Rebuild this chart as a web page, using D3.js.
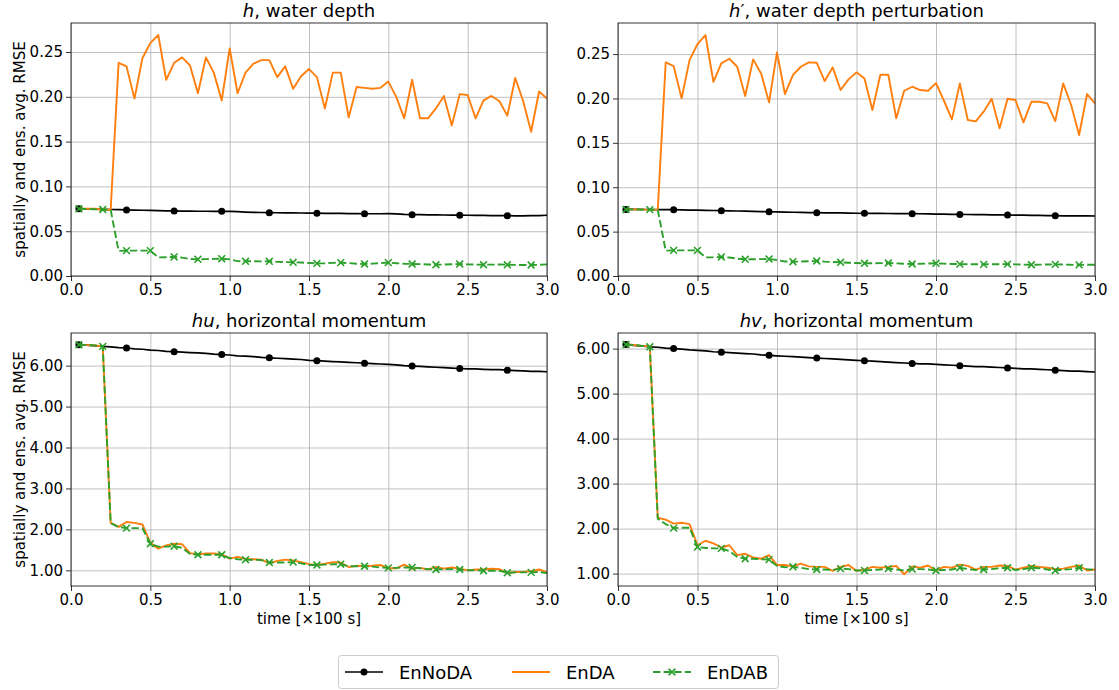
<!DOCTYPE html>
<html><head><meta charset="utf-8">
<script src="https://cdn.jsdelivr.net/npm/d3@7"></script>
<style>body{margin:0;background:#fff} text{font-family:"DejaVu Sans",sans-serif;fill:#000}</style>
</head><body><svg id="c" width="1119" height="690"></svg>
<script>
const time = [0.05,0.10,0.15,0.20,0.25,0.30,0.35,0.40,0.45,0.50,0.55,0.60,0.65,0.70,0.75,0.80,0.85,0.90,0.95,1.00,
1.05,1.10,1.15,1.20,1.25,1.30,1.35,1.40,1.45,1.50,1.55,1.60,1.65,1.70,1.75,1.80,1.85,1.90,1.95,2.00,
2.05,2.10,2.15,2.20,2.25,2.30,2.35,2.40,2.45,2.50,2.55,2.60,2.65,2.70,2.75,2.80,2.85,2.90,2.95,3.00];

// h, water depth
const hEnNoDA = [0.0750,0.0748,0.0746,0.0744,0.0742,0.0740,0.0738,0.0736,0.0734,0.0732,0.0730,0.0728,0.0726,0.0725,0.0724,0.0723,0.0723,0.0722,0.0722,0.0721,
0.0718,0.0714,0.0711,0.0709,0.0707,0.0706,0.0705,0.0704,0.0703,0.0702,0.0701,0.0700,0.0699,0.0698,0.0697,0.0696,0.0695,0.0695,0.0695,0.0696,
0.0693,0.0688,0.0685,0.0684,0.0683,0.0682,0.0681,0.0680,0.0679,0.0678,0.0677,0.0676,0.0675,0.0674,0.0673,0.0672,0.0672,0.0673,0.0675,0.0678];
const hEnDA = [0.075,0.075,0.075,0.074,0.074,0.238,0.234,0.198,0.243,0.260,0.269,0.219,0.238,0.244,0.235,0.204,0.244,0.227,0.196,0.254,
0.204,0.227,0.237,0.241,0.241,0.222,0.234,0.209,0.223,0.231,0.222,0.187,0.227,0.227,0.177,0.211,0.210,0.209,0.210,0.217,
0.200,0.176,0.219,0.176,0.176,0.187,0.201,0.168,0.203,0.202,0.176,0.196,0.201,0.195,0.179,0.221,0.195,0.161,0.206,0.198];
const hEnDAB = [0.0750,0.0748,0.0745,0.0742,0.0738,0.0280,0.0283,0.0283,0.0283,0.0283,0.0208,0.0210,0.0213,0.0205,0.0190,0.0186,0.0188,0.0191,0.0193,0.0185,
0.0166,0.0164,0.0164,0.0163,0.0164,0.0158,0.0155,0.0153,0.0150,0.0145,0.0141,0.0143,0.0147,0.0149,0.0144,0.0136,0.0134,0.0138,0.0145,0.0149,
0.0143,0.0137,0.0134,0.0132,0.0129,0.0126,0.0128,0.0131,0.0134,0.0130,0.0127,0.0126,0.0127,0.0128,0.0126,0.0124,0.0123,0.0123,0.0125,0.0130];

// h', water depth perturbation
const hpEnNoDA = [0.0750,0.0750,0.0749,0.0749,0.0748,0.0748,0.0747,0.0745,0.0743,0.0741,0.0739,0.0738,0.0736,0.0734,0.0732,0.0730,0.0728,0.0726,0.0724,0.0722,
0.0720,0.0718,0.0716,0.0715,0.0713,0.0712,0.0711,0.0710,0.0708,0.0707,0.0706,0.0705,0.0705,0.0704,0.0703,0.0703,0.0702,0.0701,0.0700,0.0698,
0.0697,0.0695,0.0694,0.0693,0.0692,0.0691,0.0689,0.0688,0.0687,0.0686,0.0685,0.0683,0.0682,0.0681,0.0679,0.0678,0.0678,0.0677,0.0677,0.0676];
const hpEnDA = [0.0750,0.0750,0.0750,0.0745,0.0745,0.2406,0.2365,0.2001,0.2432,0.2613,0.2714,0.2188,0.2395,0.2447,0.2357,0.2027,0.2440,0.2282,0.1956,0.2519,
0.2050,0.2264,0.2357,0.2406,0.2402,0.2196,0.2350,0.2095,0.2215,0.2294,0.2226,0.1869,0.2267,0.2267,0.1776,0.2087,0.2132,0.2095,0.2087,0.2173,
0.1974,0.1764,0.2170,0.1757,0.1742,0.1851,0.1997,0.1663,0.1997,0.1982,0.1731,0.1963,0.1963,0.1944,0.1745,0.2170,0.1926,0.1588,0.2050,0.1944];
const hpEnDAB = [0.0750,0.0750,0.0749,0.0748,0.0746,0.0285,0.0289,0.0289,0.0289,0.0289,0.0210,0.0211,0.0214,0.0208,0.0195,0.0188,0.0189,0.0190,0.0191,0.0180,
0.0164,0.0161,0.0163,0.0166,0.0169,0.0162,0.0157,0.0154,0.0150,0.0146,0.0143,0.0144,0.0145,0.0146,0.0142,0.0137,0.0135,0.0138,0.0141,0.0143,
0.0139,0.0135,0.0134,0.0133,0.0132,0.0131,0.0132,0.0133,0.0134,0.0131,0.0128,0.0127,0.0128,0.0130,0.0131,0.0129,0.0126,0.0125,0.0126,0.0126];

// hu, horizontal momentum
const huEnNoDA = [6.51,6.50,6.49,6.47,6.46,6.44,6.43,6.41,6.40,6.38,6.37,6.35,6.34,6.33,6.32,6.31,6.30,6.28,6.27,6.26,
6.24,6.23,6.22,6.20,6.19,6.18,6.17,6.16,6.15,6.13,6.12,6.11,6.10,6.09,6.08,6.07,6.06,6.05,6.04,6.03,
6.02,6.00,5.99,5.98,5.97,5.96,5.95,5.94,5.93,5.92,5.92,5.91,5.90,5.90,5.89,5.88,5.87,5.86,5.86,5.85];
const huEnDA = [6.51,6.50,6.49,6.47,2.16,2.06,2.18,2.16,2.12,1.67,1.53,1.61,1.65,1.64,1.42,1.39,1.41,1.41,1.39,1.285,
1.33,1.28,1.27,1.26,1.17,1.23,1.26,1.24,1.20,1.15,1.13,1.16,1.20,1.19,1.08,1.11,1.10,1.11,1.13,1.05,
1.05,1.14,1.04,1.06,1.02,1.08,1.04,1.07,1.04,1.00,1.02,1.02,1.04,1.03,0.93,0.96,0.96,0.98,1.02,0.95];
const huEnDAB = [6.51,6.50,6.49,6.47,2.15,2.06,2.03,2.03,2.03,1.65,1.58,1.58,1.59,1.55,1.40,1.38,1.38,1.38,1.38,1.30,
1.27,1.26,1.26,1.25,1.19,1.19,1.19,1.20,1.17,1.13,1.13,1.14,1.15,1.15,1.10,1.10,1.10,1.09,1.07,1.06,
1.06,1.07,1.07,1.05,1.03,1.02,1.03,1.03,1.02,1.00,1.00,0.99,0.99,0.99,0.94,0.95,0.95,0.95,0.96,0.93];

// hv, horizontal momentum
const hvEnNoDA = [6.09,6.07,6.06,6.04,6.03,6.01,6.00,5.99,5.97,5.96,5.95,5.93,5.92,5.91,5.90,5.89,5.88,5.86,5.85,5.84,
5.83,5.82,5.81,5.80,5.79,5.78,5.77,5.76,5.75,5.74,5.73,5.72,5.71,5.70,5.69,5.68,5.67,5.66,5.66,5.65,
5.64,5.63,5.62,5.61,5.60,5.60,5.59,5.58,5.57,5.56,5.55,5.55,5.54,5.53,5.52,5.51,5.50,5.50,5.49,5.48];
const hvEnDA = [6.09,6.08,6.06,6.05,2.24,2.20,2.11,2.13,2.10,1.63,1.73,1.67,1.58,1.63,1.41,1.44,1.36,1.33,1.41,1.19,
1.19,1.16,1.22,1.16,1.15,1.15,1.06,1.15,1.19,1.06,1.09,1.15,1.13,1.15,1.17,0.985,1.16,1.13,1.18,1.07,
1.15,1.13,1.20,1.17,1.09,1.15,1.15,1.18,1.17,1.09,1.13,1.17,1.15,1.13,1.10,1.11,1.15,1.18,1.07,1.09];
const hvEnDAB = [6.09,6.08,6.06,6.04,2.22,2.10,2.01,2.02,2.02,1.59,1.57,1.56,1.56,1.50,1.37,1.33,1.33,1.32,1.31,1.17,
1.14,1.15,1.13,1.10,1.09,1.09,1.08,1.11,1.10,1.07,1.07,1.08,1.09,1.11,1.09,1.07,1.10,1.10,1.09,1.07,
1.08,1.09,1.13,1.10,1.08,1.09,1.10,1.12,1.13,1.08,1.10,1.13,1.12,1.09,1.07,1.09,1.10,1.13,1.10,1.08];

const xTicks = [0, 0.5, 1.0, 1.5, 2.0, 2.5, 3.0];
const yTicksTop = [0, 0.05, 0.10, 0.15, 0.20, 0.25];
const yTicksBottom = [1, 2, 3, 4, 5, 6];
const seriesNames = ["EnNoDA", "EnDA", "EnDAB"];
const colors = {EnNoDA: "#000000", EnDA: "#ff7f0e", EnDAB: "#2ca02c"};
const xLabelText = "time [×100 s]";
const yLabelText = "spatially and ens. avg. RMSE";

const panels = [
  {title: [["h", true], [", water depth", false]], data: [hEnNoDA, hEnDA, hEnDAB],
   box: [71, 547, 23, 276], ydom: [0, 0.2824], yt: yTicksTop, ylab: true, xlab: false},
  {title: [["h", true], ["′, water depth perturbation", false]], data: [hpEnNoDA, hpEnDA, hpEnDAB],
   box: [618, 1095, 23, 276], ydom: [0, 0.2850], yt: yTicksTop, ylab: false, xlab: false},
  {title: [["hu", true], [", horizontal momentum", false]], data: [huEnNoDA, huEnDA, huEnDAB],
   box: [71, 547, 333, 586], ydom: [0.617, 6.797], yt: yTicksBottom, ylab: true, xlab: true},
  {title: [["hv", true], [", horizontal momentum", false]], data: [hvEnNoDA, hvEnDA, hvEnDAB],
   box: [618, 1095, 333, 586], ydom: [0.724, 6.347], yt: yTicksBottom, ylab: false, xlab: true}
];

const svg = d3.select("#c");
svg.append("rect").attr("width", 1119).attr("height", 690).attr("fill", "#fff");
const xMarkPath = "M-3.4,-3.4L3.4,3.4M-3.4,3.4L3.4,-3.4";
const dash = "7.4,3.2";

panels.forEach(p => {
  const [x0, x1, y0, y1] = p.box;
  const x = d3.scaleLinear().domain([0, 3]).range([x0, x1]);
  const y = d3.scaleLinear().domain(p.ydom).range([y1, y0]);
  const g = svg.append("g");

  // grid
  g.append("g").attr("transform", `translate(0,${y1})`)
    .call(d3.axisBottom(x).tickValues(xTicks).tickSize(-(y1 - y0)).tickFormat(""))
    .call(s => { s.select(".domain").remove(); s.selectAll("line").attr("stroke", "#b0b0b0").attr("stroke-width", 0.8); });
  g.append("g").attr("transform", `translate(${x0},0)`)
    .call(d3.axisLeft(y).tickValues(p.yt).tickSize(-(x1 - x0)).tickFormat(""))
    .call(s => { s.select(".domain").remove(); s.selectAll("line").attr("stroke", "#b0b0b0").attr("stroke-width", 0.8); });

  // axes
  const ax = g.append("g").attr("transform", `translate(0,${y1})`)
    .call(d3.axisBottom(x).tickValues(xTicks).tickSize(5).tickPadding(3).tickFormat(d3.format(".1f")));
  const ay = g.append("g").attr("transform", `translate(${x0},0)`)
    .call(d3.axisLeft(y).tickValues(p.yt).tickSize(5).tickPadding(3).tickFormat(d3.format(".2f")));
  [ax, ay].forEach(a => {
    a.select(".domain").remove();
    a.selectAll("line").attr("stroke", "#000").attr("stroke-width", 0.8);
    a.selectAll("text").attr("font-size", 15).attr("font-family", "DejaVu Sans").attr("fill", "#000");
  });

  const clipId = "clip" + x0 + "_" + y0;
  svg.append("clipPath").attr("id", clipId).append("rect")
    .attr("x", x0).attr("y", y0).attr("width", x1 - x0).attr("height", y1 - y0);
  const plot = g.append("g").attr("clip-path", `url(#${clipId})`);

  const line = d3.line().x((d, i) => x(time[i])).y(d => y(d));
  // EnNoDA
  plot.append("path").datum(p.data[0]).attr("d", line).attr("fill", "none")
    .attr("stroke", colors.EnNoDA).attr("stroke-width", 1.7);
  plot.selectAll(".m0").data(p.data[0].map((v, i) => [time[i], v]).filter((d, i) => i % 6 === 0))
    .enter().append("circle").attr("cx", d => x(d[0])).attr("cy", d => y(d[1])).attr("r", 3.5).attr("fill", colors.EnNoDA);
  // EnDA
  plot.append("path").datum(p.data[1]).attr("d", line).attr("fill", "none")
    .attr("stroke", colors.EnDA).attr("stroke-width", 1.9).attr("stroke-linejoin", "round");
  // EnDAB
  plot.append("path").datum(p.data[2]).attr("d", line).attr("fill", "none")
    .attr("stroke", colors.EnDAB).attr("stroke-width", 1.9).attr("stroke-dasharray", dash);
  plot.selectAll(".m2").data(p.data[2].map((v, i) => [time[i], v]).filter((d, i) => i % 3 === 0))
    .enter().append("path").attr("d", xMarkPath).attr("transform", d => `translate(${x(d[0])},${y(d[1])})`)
    .attr("stroke", colors.EnDAB).attr("stroke-width", 1.6).attr("fill", "none");

  // spines
  g.append("rect").attr("x", x0).attr("y", y0).attr("width", x1 - x0).attr("height", y1 - y0)
    .attr("fill", "none").attr("stroke", "#000").attr("stroke-width", 0.8);

  // title
  const t = g.append("text").attr("x", (x0 + x1) / 2).attr("y", y0 - 6).attr("text-anchor", "middle").attr("font-size", 18);
  p.title.forEach(([s, it]) => t.append("tspan").text(s).attr("font-style", it ? "italic" : "normal"));

  if (p.ylab) {
    g.append("text").attr("transform", `translate(25,${(y0 + y1) / 2}) rotate(-90)`)
      .attr("text-anchor", "middle").attr("font-size", 15).text(yLabelText);
  }
  if (p.xlab) {
    g.append("text").attr("x", (x0 + x1) / 2).attr("y", y1 + 38).attr("text-anchor", "middle")
      .attr("font-size", 15).text(xLabelText);
  }
});

// legend
const lg = svg.append("g");
lg.append("rect").attr("x", 338.5).attr("y", 655.5).attr("width", 440).attr("height", 33).attr("rx", 3)
  .attr("fill", "#fff").attr("stroke", "#cccccc").attr("stroke-width", 1);
const legendX = [345, 512, 653];
seriesNames.forEach((name, i) => {
  const lx = legendX[i], ly = 672;
  const item = lg.append("g");
  item.append("line").attr("x1", lx).attr("x2", lx + 38).attr("y1", ly).attr("y2", ly)
    .attr("stroke", colors[name]).attr("stroke-width", name === "EnNoDA" ? 1.7 : 1.9)
    .attr("stroke-dasharray", name === "EnDAB" ? dash : null);
  if (name === "EnNoDA") item.append("circle").attr("cx", lx + 19).attr("cy", ly).attr("r", 3.5).attr("fill", colors[name]);
  if (name === "EnDAB") item.append("path").attr("d", xMarkPath).attr("transform", `translate(${lx + 19},${ly})`)
    .attr("stroke", colors[name]).attr("stroke-width", 1.6);
  item.append("text").attr("x", lx + 54).attr("y", ly + 6.5).attr("font-size", 18).text(name);
});
</script></body></html>
